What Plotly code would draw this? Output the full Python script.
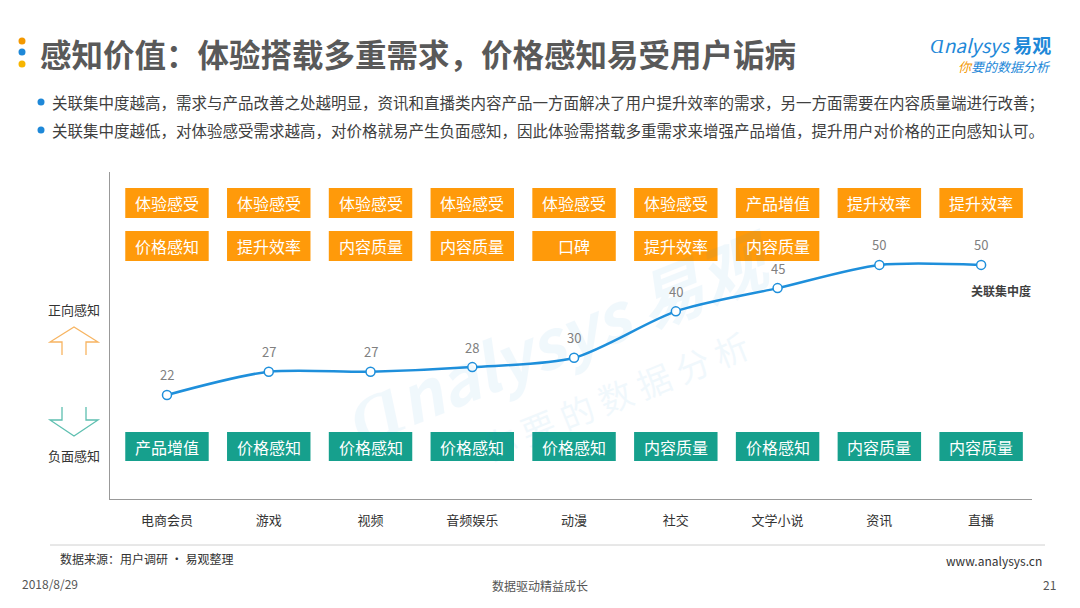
import plotly.graph_objects as go

# data
categories = ["电商会员", "游戏", "视频", "音频娱乐", "动漫", "社交", "文学小说", "资讯", "直播"]
concentration = [22, 27, 27, 28, 30, 40, 45, 50, 50]
positive_row1 = ["体验感受", "体验感受", "体验感受", "体验感受", "体验感受", "体验感受", "产品增值", "提升效率", "提升效率"]
positive_row2 = ["价格感知", "提升效率", "内容质量", "内容质量", "口碑", "提升效率", "内容质量", None, None]
negative_row = ["产品增值", "价格感知", "价格感知", "价格感知", "价格感知", "内容质量", "价格感知", "内容质量", "内容质量"]

title_text = "感知价值：体验搭载多重需求，价格感知易受用户诟病"
bullets = [
    "关联集中度越高，需求与产品改善之处越明显，资讯和直播类内容产品一方面解决了用户提升效率的需求，另一方面需要在内容质量端进行改善；",
    "关联集中度越低，对体验感受需求越高，对价格就易产生负面感知，因此体验需搭载多重需求来增强产品增值，提升用户对价格的正向感知认可。",
]

W, H = 1080, 608
L, R, T, B = 110, 1032, 172, 499
FONT = "Noto Sans CJK SC"
ORANGE = "#FF9A0A"
TEAL = "#16A08D"
BLUE = "#1E8FDB"


def px(x):
    return (x - L) / (R - L)


def py(y):
    return (B - y) / (B - T)


def label(x, y, text, size, color, xanchor="center", **kw):
    # text placed in slide pixels, anchored explicitly
    return dict(x=px(x), y=py(y), xref="paper", yref="paper", text=text, showarrow=False,
                xanchor=xanchor, yanchor="middle", font=dict(size=size, color=color, family=FONT), **kw)


fig = go.Figure()
fig.add_trace(go.Scatter(
    x=list(range(len(categories))), y=concentration,
    mode="lines+markers",
    line=dict(color=BLUE, width=2.5, shape="spline", smoothing=0.8),
    marker=dict(size=9, color="white", line=dict(color=BLUE, width=1.5)),
    hoverinfo="skip", showlegend=False,
))

shapes = []
annotations = []

# watermark (faint)
annotations.append(label(560, 335, "<b><i>Ɑnalysys 易观</i></b>", 66, BLUE, textangle=-22, opacity=0.06))
annotations.append(label(615, 395, "你 要 的 数 据 分 析", 34, BLUE, textangle=-22, opacity=0.06))

# value labels
for i, v in enumerate(concentration):
    annotations.append(dict(x=i, y=v, xref="x", yref="y", text=str(v), showarrow=False,
                            xanchor="center", yanchor="middle", yshift=20,
                            font=dict(size=13, color="#808080", family=FONT)))
annotations.append(dict(x=len(categories) - 1, y=concentration[-1], xref="x", yref="y",
                        text="<b>关联集中度</b>", showarrow=False, xanchor="center", yanchor="middle",
                        xshift=20, yshift=-26, font=dict(size=12, color="#404040", family=FONT)))

# label boxes
rows = [(positive_row1, 188, 218, ORANGE), (positive_row2, 231, 261, ORANGE), (negative_row, 432, 461, TEAL)]
for labels, y0, y1, color in rows:
    for i, lab in enumerate(labels):
        if not lab:
            continue
        shapes.append(dict(type="rect", xref="x", yref="paper", x0=i - 0.41, x1=i + 0.41,
                           y0=py(y1), y1=py(y0), fillcolor=color, line=dict(width=0), layer="below"))
        annotations.append(dict(x=i, y=py((y0 + y1) / 2), xref="x", yref="paper", text=lab,
                                showarrow=False, xanchor="center", yanchor="middle",
                                font=dict(size=16, color="white", family=FONT)))

# left side arrows and labels
up = "M {} {} L {} {} L {} {} L {} {} L {} {} L {} {} L {} {}".format(
    px(62), py(355), px(62), py(342), px(50), py(342), px(74), py(327), px(98), py(342), px(86), py(342), px(86), py(355))
down = "M {} {} L {} {} L {} {} L {} {} L {} {} L {} {} L {} {}".format(
    px(62), py(407), px(62), py(420), px(50), py(420), px(74), py(436), px(98), py(420), px(86), py(420), px(86), py(407))
shapes.append(dict(type="path", xref="paper", yref="paper", path=up, line=dict(color="#F7B461", width=1.3)))
shapes.append(dict(type="path", xref="paper", yref="paper", path=down, line=dict(color="#5DBFB0", width=1.3)))
annotations.append(label(74, 309, "正向感知", 13, "#333333"))
annotations.append(label(74, 455, "负面感知", 13, "#333333"))

# header
for yy, c in [(41, "#F39800"), (52, "#1E88D8"), (64, "#F7B500")]:
    shapes.append(dict(type="circle", xref="paper", yref="paper", x0=px(18.5), x1=px(25.5),
                       y0=py(yy + 3.5), y1=py(yy - 3.5), fillcolor=c, line=dict(width=0)))
annotations.append(label(38, 53, "<b>" + title_text + "</b>", 31.5, "#595959", xanchor="left"))
for text, yy in zip(bullets, [102, 130]):
    shapes.append(dict(type="circle", xref="paper", yref="paper", x0=px(37.5), x1=px(44.5),
                       y0=py(yy + 3.5), y1=py(yy - 3.5), fillcolor="#1E88D8", line=dict(width=0)))
    annotations.append(label(50, yy, text, 15.5, "#404040", xanchor="left"))

# logo
annotations.append(label(1053, 44, "<i>Ɑnalysys</i> <b>易观</b>", 19, "#1E88D8", xanchor="right"))
annotations.append(label(1053, 66, "<i><span style='color:#F39800'>你</span>要的数据分析</i>", 13, "#1E88D8",
                         xanchor="right"))

# footer
shapes.append(dict(type="line", xref="paper", yref="paper", x0=px(50), x1=px(1045), y0=py(545), y1=py(545),
                   line=dict(color="#D0D0D0", width=1)))
annotations.append(label(58, 558, "数据来源：用户调研 · 易观整理", 12, "#333333", xanchor="left"))
annotations.append(label(1044, 560, "www.analysys.cn", 12, "#333333", xanchor="right"))
annotations.append(label(20, 583, "2018/8/29", 12, "#555555", xanchor="left"))
annotations.append(label(540, 585, "数据驱动精益成长", 12, "#555555"))
annotations.append(label(1058, 584, "21", 12, "#555555", xanchor="right"))

fig.update_layout(
    width=W, height=H,
    margin=dict(l=L, r=W - R, t=T, b=H - B),
    paper_bgcolor="white", plot_bgcolor="white",
    font=dict(family=FONT),
    xaxis=dict(range=[-0.56, 8.5], tickmode="array", tickvals=list(range(len(categories))), ticktext=categories,
               showgrid=False, zeroline=False, showline=True, linecolor="#999999", linewidth=1,
               tickfont=dict(size=13, color="#333333"), ticklabelstandoff=9, fixedrange=True),
    yaxis=dict(range=[-0.4, 70], showgrid=False, zeroline=False, showticklabels=False,
               showline=True, linecolor="#999999", linewidth=1, fixedrange=True),
    shapes=shapes, annotations=annotations,
)

fig.write_html("out.html", config={"displayModeBar": False},
               post_script="document.body.style.margin='0px';")
